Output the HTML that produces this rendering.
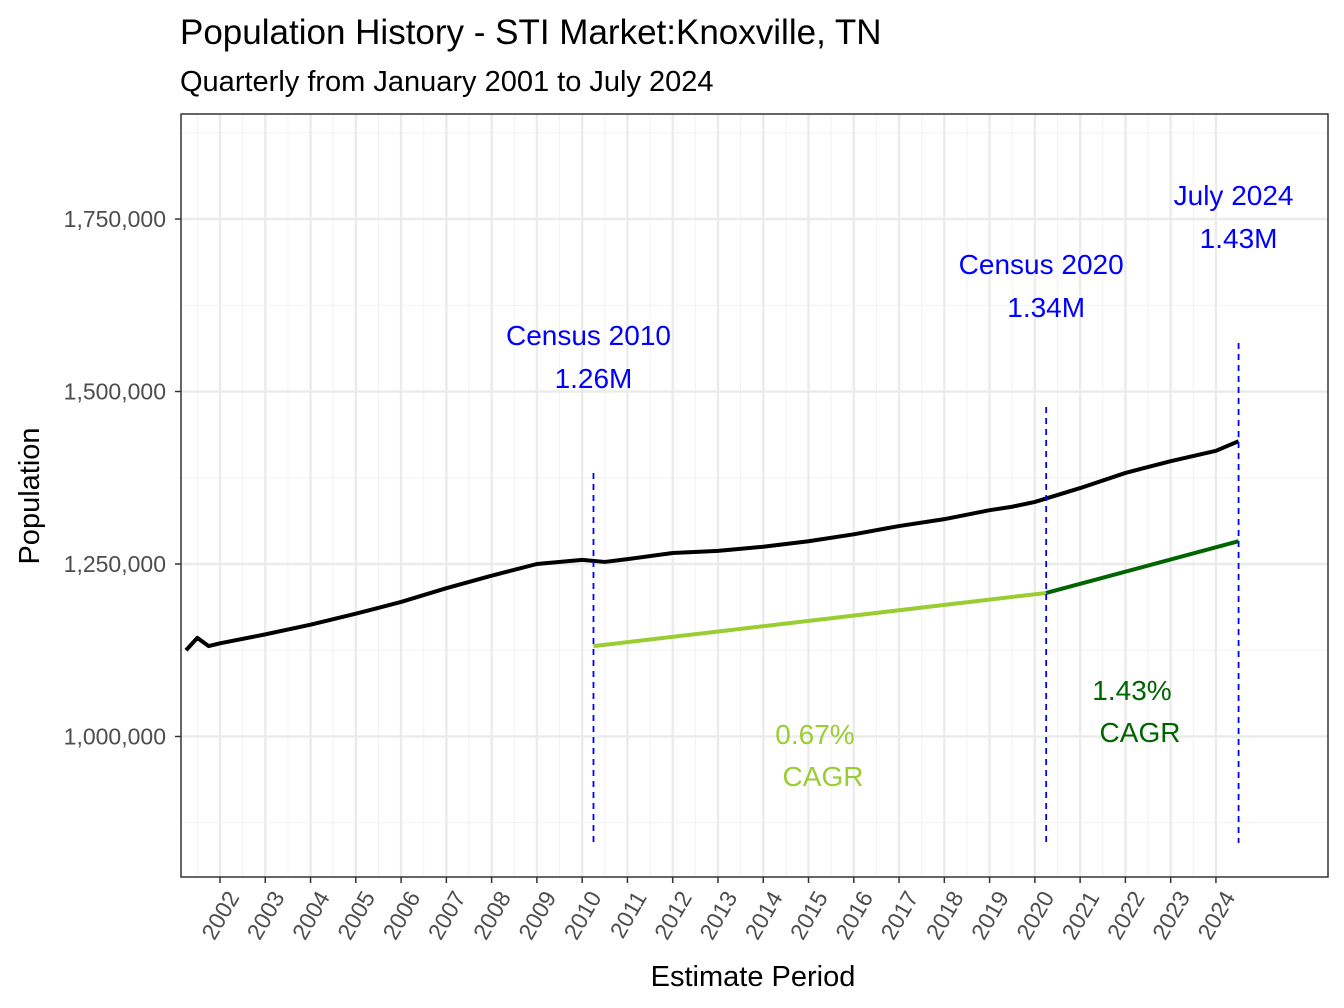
<!DOCTYPE html>
<html><head><meta charset="utf-8"><style>
html,body{margin:0;padding:0;background:#fff;}
svg{display:block;font-family:"Liberation Sans",Arial,sans-serif;}
</style></head><body>
<svg id="chart" width="1344" height="1008" viewBox="0 0 1344 1008">
<text x="180" y="44" font-size="35" fill="#000">Population History - STI Market:Knoxville, TN</text>
<text x="180" y="91" font-size="29" fill="#000">Quarterly from January 2001 to July 2024</text>
<g id="grid"></g>
<g id="marks"></g>
<rect x="181" y="114" width="1147" height="763" fill="none" stroke="#333" stroke-width="1.5"/>
<g id="axes"></g>
<text x="753" y="986" font-size="29" text-anchor="middle" fill="#000">Estimate Period</text>
<text transform="translate(39,496) rotate(-90)" font-size="29" text-anchor="middle" fill="#000">Population</text>
</svg>
<script>
const dates=[2001.25,2001.5,2001.75,2002,2003,2004,2005,2006,2007,2008,2009,2010,2010.5,2011,2012,2013,2014,2015,2016,2017,2018,2019,2019.5,2020,2021,2022,2023,2024,2024.5];
const population=[1125000,1143000,1131000,1135000,1148000,1162000,1178000,1195000,1215000,1233000,1250000,1256000,1253000,1257000,1266000,1269000,1275000,1283000,1293000,1305000,1315000,1328000,1333000,1340000,1360000,1382000,1399000,1414000,1428000];
const cagr1Dates=[2010.25,2020.25];
const cagr1Values=[1131000,1208000];
const cagr2Dates=[2020.25,2024.5];
const cagr2Values=[1208000,1283000];
const yTicks=[1000000,1250000,1500000,1750000];
const yMinor=[875000,1125000,1375000,1625000,1875000];
const xTickYears=[2002,2003,2004,2005,2006,2007,2008,2009,2010,2011,2012,2013,2014,2015,2016,2017,2018,2019,2020,2021,2022,2023,2024];
const refDates=[2010.25,2020.25,2024.5];
const refLabels=["Census 2010","Census 2020","July 2024"];
const refValues=["1.26M","1.34M","1.43M"];
const cagrLabels=["0.67%","1.43%"];

const NS="http://www.w3.org/2000/svg";
const X0=181,X1=1328,Y0=114,Y1=877;
function x(d){return 220+(d-2002)*45.27;}
function y(v){return 564-(v-1250000)/250000*172.5;}
function mk(tag,attrs,parent){const e=document.createElementNS(NS,tag);for(const k in attrs)e.setAttribute(k,attrs[k]);parent.appendChild(e);return e;}
const grid=document.getElementById('grid'),marks=document.getElementById('marks'),axes=document.getElementById('axes');
mk('rect',{x:X0,y:Y0,width:X1-X0,height:Y1-Y0,fill:'#fff'},grid);
yMinor.forEach(v=>{const l=mk('line',{x1:X0,x2:X1,y1:y(v),y2:y(v),stroke:'#f2f2f2','stroke-width':1},grid);

});
xTickYears.forEach(d=>{const l=mk('line',{x1:x(d-0.5),x2:x(d-0.5),y1:Y0,y2:Y1,stroke:'#f2f2f2','stroke-width':1},grid);

});
yTicks.forEach(v=>{const l=mk('line',{x1:X0,x2:X1,y1:y(v),y2:y(v),stroke:'#ebebeb','stroke-width':2.4},grid);


const t=mk('line',{x1:X0-6,x2:X0,y1:y(v),y2:y(v),stroke:'#333','stroke-width':1.5},axes);


const tx=mk('text',{x:X0-15,y:y(v)+8,'font-size':23,'text-anchor':'end',fill:'#4d4d4d'},axes);
tx.textContent=v.toLocaleString('en-US');

});
xTickYears.forEach(d=>{const l=mk('line',{x1:x(d),x2:x(d),y1:Y0,y2:Y1,stroke:'#ebebeb','stroke-width':2.4},grid);


const t=mk('line',{x1:x(d),x2:x(d),y1:Y1,y2:Y1+6,stroke:'#333','stroke-width':1.5},axes);


const tx=mk('text',{transform:`translate(${x(d)+20},${Y1+20}) rotate(-60)`,'font-size':23,'text-anchor':'end',fill:'#4d4d4d'},axes);
tx.textContent=String(d);

});
const popLine=mk('polyline',{points:dates.map((d,i)=>x(d)+','+y(population[i])).join(' '),fill:'none',stroke:'#000','stroke-width':4,'stroke-linejoin':'round'},marks);


const c1=mk('polyline',{points:cagr1Dates.map((d,i)=>x(d)+','+y(cagr1Values[i])).join(' '),fill:'none',stroke:'#9acd32','stroke-width':4},marks);


const c2=mk('polyline',{points:cagr2Dates.map((d,i)=>x(d)+','+y(cagr2Values[i])).join(' '),fill:'none',stroke:'#006400','stroke-width':4},marks);


const refTop=[473,407,343];
const labelY=[345,274,205];
refDates.forEach((d,i)=>{const l=mk('line',{x1:x(d),x2:x(d),y1:refTop[i],y2:843,stroke:'#0000ff','stroke-width':1.8,'stroke-dasharray':'6,5'},marks);


const t1=mk('text',{x:x(d)-5,y:labelY[i],'font-size':28,'text-anchor':'middle',fill:'#0000ff'},marks);
t1.textContent=refLabels[i];


const t2=mk('text',{x:x(d),y:labelY[i]+43,'font-size':28,'text-anchor':'middle',fill:'#0000ff'},marks);
t2.textContent=refValues[i];

});
[[815,744,'#9acd32'],[1132,700,'#006400']].forEach((p,i)=>{const t=mk('text',{x:p[0],y:p[1],'font-size':28,'text-anchor':'middle',fill:p[2]},marks);
t.textContent=cagrLabels[i];


const t2=mk('text',{x:p[0]+8,y:p[1]+42,'font-size':28,'text-anchor':'middle',fill:p[2]},marks);
t2.textContent='CAGR';

});
</script>
</body></html>
